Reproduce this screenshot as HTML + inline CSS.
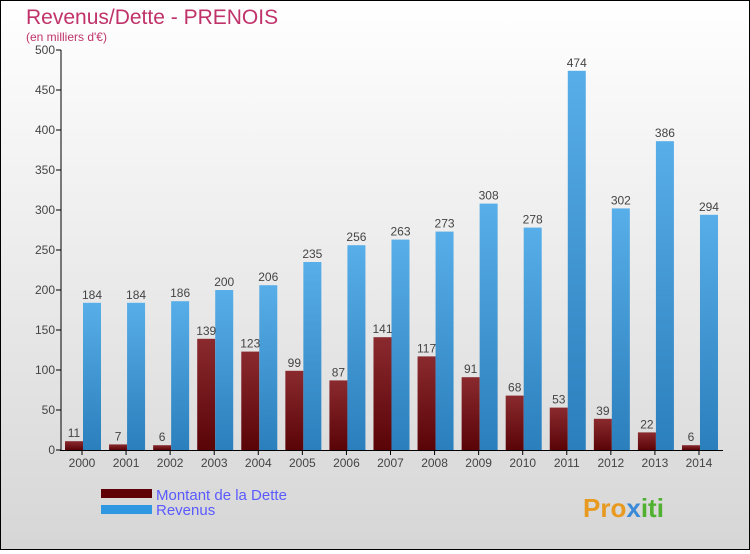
<!DOCTYPE html>
<html><head><meta charset="utf-8"><style>
body{margin:0}
#c{width:748px;height:548px;border:1px solid #000;background:linear-gradient(#fff,#d6d6d6);position:relative;font-family:"Liberation Sans",sans-serif}
</style></head><body>
<div id="c">
<svg width="748" height="548" id="s">
<defs>
<linearGradient id="gd" x1="0" x2="0" y1="0" y2="1"><stop offset="0" stop-color="#8a2a2e"/><stop offset="1" stop-color="#5a0408"/></linearGradient>
<linearGradient id="gr" x1="0" x2="0" y1="0" y2="1"><stop offset="0" stop-color="#58aee8"/><stop offset="1" stop-color="#2a7fbc"/></linearGradient>
</defs>
<text x="25" y="23" font-size="21" fill="#c0336a">Revenus/Dette - PRENOIS</text>
<text x="25" y="40" font-size="12" fill="#c0336a">(en milliers d'€)</text>
<g id="g"></g>
<rect x="100" y="488" width="51" height="9" fill="#5e0006"/>
<rect x="100" y="504" width="51" height="9" fill="#3098e0"/>
<text x="155" y="499" font-size="15" fill="#5a5aff">Montant de la Dette</text>
<text x="155" y="514" font-size="15" fill="#5a5aff">Revenus</text>
<text x="582" y="516" font-size="26" font-weight="bold" fill="#e89a20">Pro<tspan fill="#3a8ad8">x</tspan><tspan fill="#50b030">iti</tspan></text>
</svg></div>
<script>
const years=["2000","2001","2002","2003","2004","2005","2006","2007","2008","2009","2010","2011","2012","2013","2014"];
const dette=[11,7,6,139,123,99,87,141,117,91,68,53,39,22,6];
const revenus=[184,184,186,200,206,235,256,263,273,308,278,474,302,386,294];
const yTicks=[0,50,100,150,200,250,300,350,400,450,500];
const NS="http://www.w3.org/2000/svg",g=document.getElementById('g');
const y=v=>449-v*0.8, x=i=>81+i*44.07;
function mk(t,a,txt){const e=document.createElementNS(NS,t);for(const k in a)e.setAttribute(k,a[k]);if(txt!=null)e.textContent=txt;g.appendChild(e);return e;}
yTicks.forEach(t=>{
 const l=mk('line',{x1:55,x2:60,y1:y(t),y2:y(t),stroke:'#000'});
 
 
 const tx=mk('text',{x:54,y:y(t)+4,'font-size':12,fill:'#444','text-anchor':'end'},t);
 
 
});
years.forEach((yr,i)=>{
 const cx=x(i);
 const b1=mk('rect',{x:cx-17,y:y(dette[i]),width:18,height:dette[i]*0.8,fill:'url(#gd)'});
 
 
 const b2=mk('rect',{x:cx+1,y:y(revenus[i]),width:18,height:revenus[i]*0.8,fill:'url(#gr)'});
 
 
 const l1=mk('text',{x:cx-8,y:y(dette[i])-4,'font-size':12,fill:'#444','text-anchor':'middle'},dette[i]);
 
 
 const l2=mk('text',{x:cx+10,y:y(revenus[i])-4,'font-size':12,fill:'#444','text-anchor':'middle'},revenus[i]);
 
 
 const tk=mk('line',{x1:cx,x2:cx,y1:449,y2:454,stroke:'#000'});
 
 
 const xl=mk('text',{x:cx,y:466,'font-size':12,fill:'#444','text-anchor':'middle'},yr);
 
 
});
const ya=mk('line',{x1:60,x2:60,y1:49,y2:450,stroke:'#000'});


const xa=mk('line',{x1:59,x2:722,y1:449.5,y2:449.5,stroke:'#000'});


</script>
</body></html>
